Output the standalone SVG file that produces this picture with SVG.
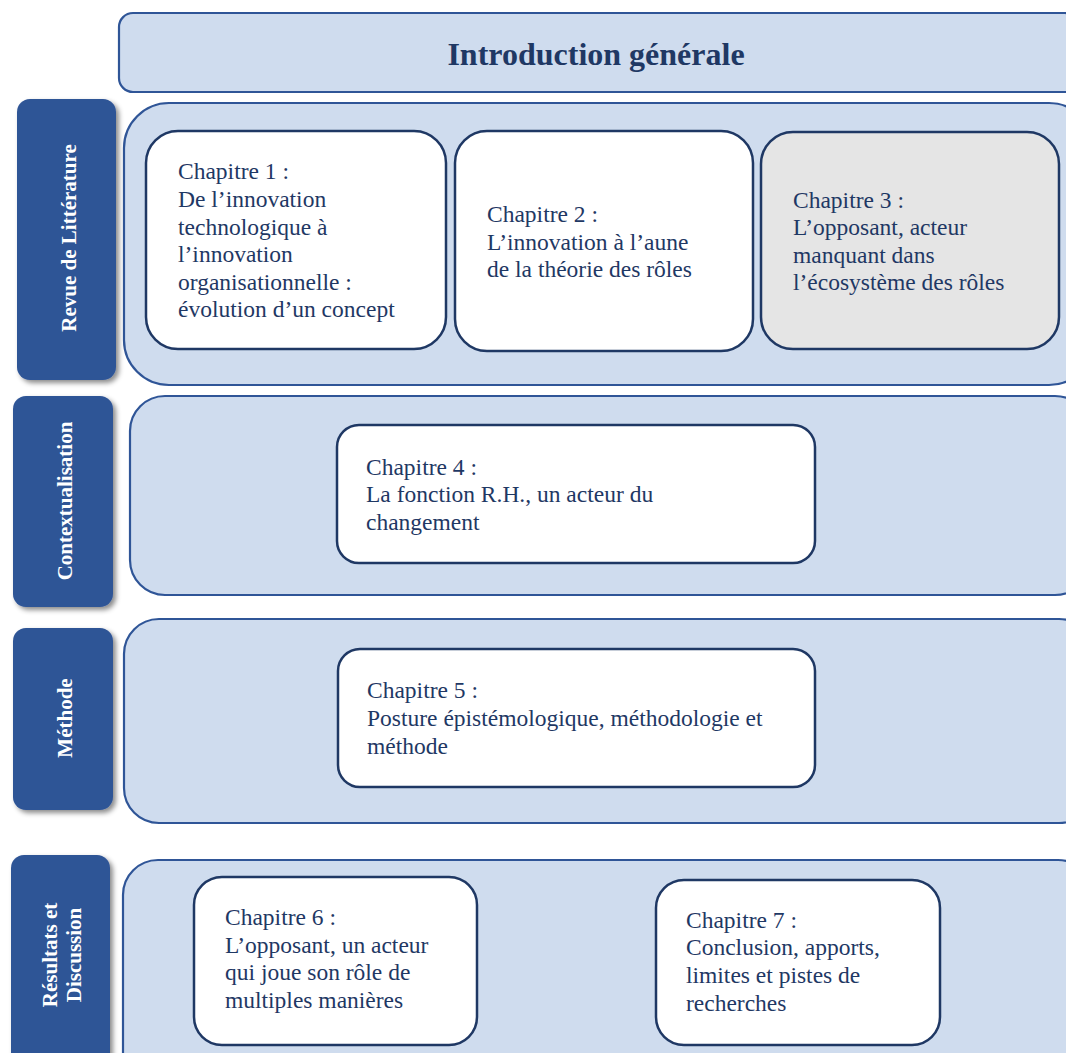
<svg xmlns="http://www.w3.org/2000/svg" width="1066" height="1053" viewBox="0 0 1066 1053">
<defs>
<filter id="sh" x="-20%" y="-20%" width="150%" height="150%">
<feDropShadow dx="3" dy="3" stdDeviation="2.5" flood-color="#000" flood-opacity="0.45"/>
</filter>
</defs>
<style>
.panel{fill:#cfdcee;stroke:#2f5597;stroke-width:2.2}
.side{fill:#2f5496;filter:url(#sh)}
.sidet{fill:#fff;font-family:"Liberation Serif",serif;font-weight:bold;font-size:21px;text-anchor:middle}
.box{fill:#fff;stroke:#1f3864;stroke-width:2.5}
.grey{fill:#e5e5e5}
.t{fill:#1f3864;font-family:"Liberation Serif",serif;font-size:23.5px}
.head{fill:#1f3864;font-family:"Liberation Serif",serif;font-weight:bold;font-size:32px;text-anchor:middle}
</style>
<rect width="1066" height="1053" fill="#fff"/>
<g id="header">
<rect class="panel" x="119" y="13" width="960" height="79" rx="14"/>
<text class="head" x="596" y="65">Introduction générale</text>
</g>
<g id="panel-revue">
<rect class="panel" x="124" y="103" width="970" height="282" rx="45"/>
</g>
<g id="panel-context">
<rect class="panel" x="130" y="396" width="960" height="199" rx="35"/>
</g>
<g id="panel-methode">
<rect class="panel" x="124" y="619" width="970" height="204" rx="35"/>
</g>
<g id="panel-resultats">
<rect class="panel" x="123" y="860" width="970" height="230" rx="35"/>
</g>
<g id="label-revue">
<rect class="side" x="17" y="99" width="99" height="281" rx="13"/>
<text class="sidet" transform="translate(76,238) rotate(-90)">Revue de Littérature</text>
</g>
<g id="label-context">
<rect class="side" x="13" y="396" width="100" height="211" rx="13"/>
<text class="sidet" transform="translate(72,501) rotate(-90)">Contextualisation</text>
</g>
<g id="label-methode">
<rect class="side" x="13" y="628" width="100" height="182" rx="13"/>
<text class="sidet" transform="translate(72,718) rotate(-90)">Méthode</text>
</g>
<g id="label-resultats">
<rect class="side" x="11" y="855" width="99" height="230" rx="13"/>
<text class="sidet" transform="translate(57,955) rotate(-90)">Résultats et</text>
<text class="sidet" transform="translate(81,955) rotate(-90)">Discussion</text>
</g>
<g id="ch1">
<rect class="box" x="146" y="131" width="300" height="218" rx="32"/>
<text class="t" x="178" y="179">Chapitre 1 :</text>
<text class="t" x="178" y="207">De l’innovation</text>
<text class="t" x="178" y="235">technologique à</text>
<text class="t" x="178" y="262">l’innovation</text>
<text class="t" x="178" y="290">organisationnelle :</text>
<text class="t" x="178" y="317">évolution d’un concept</text>
</g>
<g id="ch2">
<rect class="box" x="455" y="131" width="298" height="220" rx="32"/>
<text class="t" x="487" y="222">Chapitre 2 :</text>
<text class="t" x="487" y="250">L’innovation à l’aune</text>
<text class="t" x="487" y="277">de la théorie des rôles</text>
</g>
<g id="ch3">
<rect class="box grey" x="761" y="132" width="298" height="217" rx="32"/>
<text class="t" x="793" y="208">Chapitre 3 :</text>
<text class="t" x="793" y="235">L’opposant, acteur</text>
<text class="t" x="793" y="263">manquant dans</text>
<text class="t" x="793" y="290">l’écosystème des rôles</text>
</g>
<g id="ch4">
<rect class="box" x="337" y="425" width="478" height="138" rx="22"/>
<text class="t" x="366" y="475">Chapitre 4 :</text>
<text class="t" x="366" y="502">La fonction R.H., un acteur du</text>
<text class="t" x="366" y="530">changement</text>
</g>
<g id="ch5">
<rect class="box" x="338" y="649" width="477" height="138" rx="22"/>
<text class="t" x="367" y="698">Chapitre 5 :</text>
<text class="t" x="367" y="726">Posture épistémologique, méthodologie et</text>
<text class="t" x="367" y="754">méthode</text>
</g>
<g id="ch6">
<rect class="box" x="194" y="877" width="283" height="168" rx="28"/>
<text class="t" x="225" y="925">Chapitre 6 :</text>
<text class="t" x="225" y="953">L’opposant, un acteur</text>
<text class="t" x="225" y="980">qui joue son rôle de</text>
<text class="t" x="225" y="1008">multiples manières</text>
</g>
<g id="ch7">
<rect class="box" x="656" y="880" width="284" height="165" rx="28"/>
<text class="t" x="686" y="928">Chapitre 7 :</text>
<text class="t" x="686" y="955">Conclusion, apports,</text>
<text class="t" x="686" y="983">limites et pistes de</text>
<text class="t" x="686" y="1011">recherches</text>
</g>
<g id="connectors"/>
</svg>
